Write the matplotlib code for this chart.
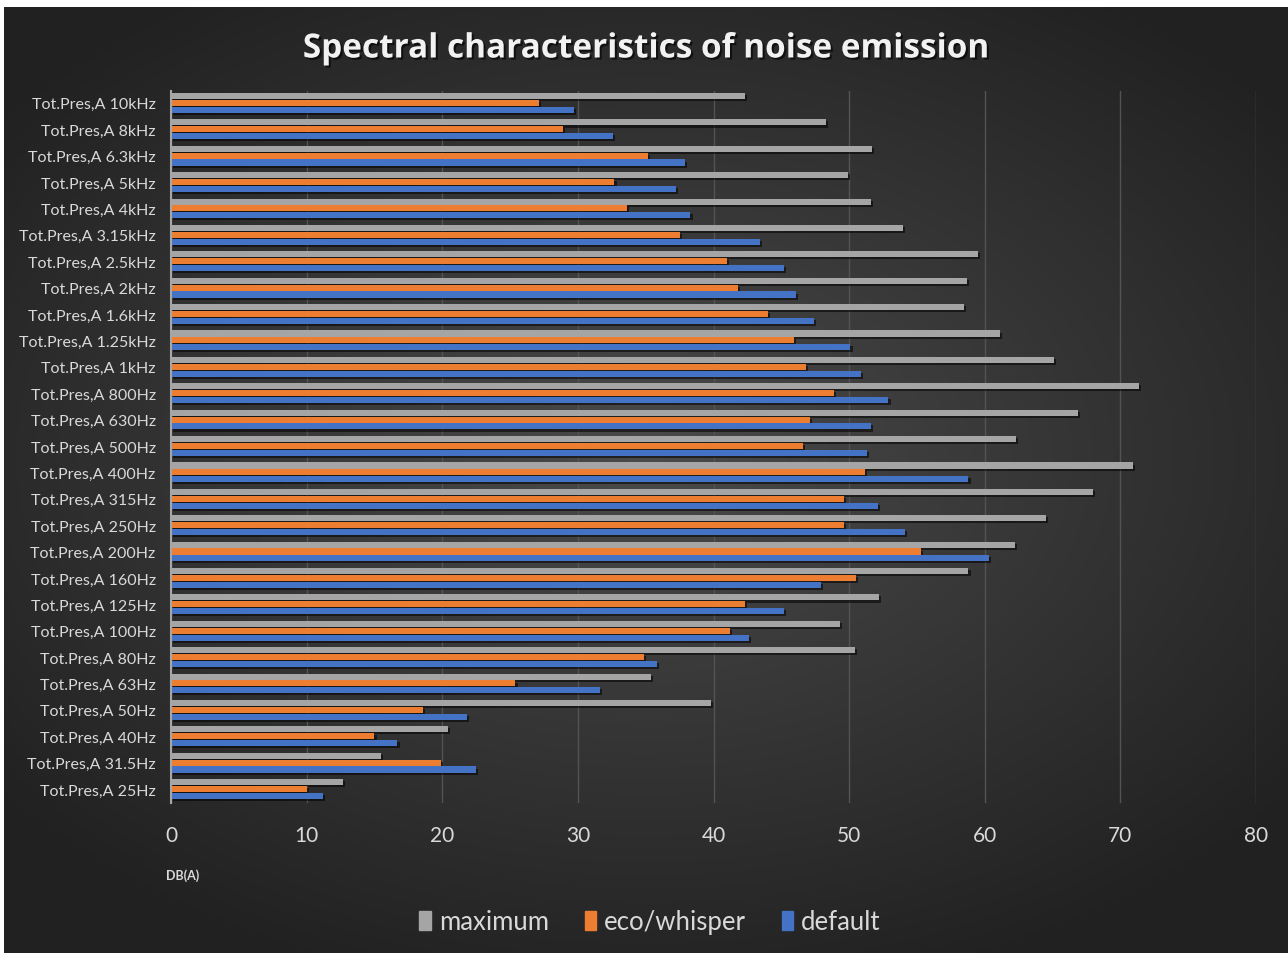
import numpy as np
import matplotlib.pyplot as plt
import matplotlib.patheffects as pe
from matplotlib.patches import Patch

# third-octave bands, lowest first (drawn bottom-up)
bands = ['25Hz', '31.5Hz', '40Hz', '50Hz', '63Hz', '80Hz', '100Hz', '125Hz',
         '160Hz', '200Hz', '250Hz', '315Hz', '400Hz', '500Hz', '630Hz', '800Hz',
         '1kHz', '1.25kHz', '1.6kHz', '2kHz', '2.5kHz', '3.15kHz', '4kHz',
         '5kHz', '6.3kHz', '8kHz', '10kHz']
labels = ['Tot.Pres,A ' + b for b in bands]

maximum = [12.7, 15.5, 20.4, 39.8, 35.4, 50.4, 49.3, 52.2, 58.8, 62.2, 64.5,
           68.0, 70.9, 62.3, 66.9, 71.4, 65.1, 61.1, 58.5, 58.7, 59.5, 54.0,
           51.6, 49.9, 51.7, 48.3, 42.3]
eco = [10.0, 19.9, 15.0, 18.6, 25.4, 34.9, 41.2, 42.3, 50.5, 55.3, 49.6,
       49.6, 51.2, 46.6, 47.1, 48.9, 46.8, 45.9, 44.0, 41.8, 41.0, 37.5,
       33.6, 32.7, 35.2, 28.9, 27.1]
default = [11.2, 22.5, 16.7, 21.8, 31.6, 35.8, 42.6, 45.2, 47.9, 60.3, 54.1,
           52.1, 58.8, 51.3, 51.6, 52.9, 50.9, 50.1, 47.4, 46.1, 45.2, 43.4,
           38.3, 37.2, 37.9, 32.6, 29.7]

c_max = '#a5a5a5'
c_eco = '#ed7d31'
c_def = '#4472c4'
txt = '#d9d9d9'
font = 'Lato'

fig = plt.figure(figsize=(12.88, 9.54), dpi=100)
fig.patch.set_facecolor('white')

# dark radial backdrop
bg = fig.add_axes([4 / 1288, 0, 1284 / 1288, 946 / 954])
bg.set_axis_off()
gx, gy = np.meshgrid(np.linspace(-1, 1, 400), np.linspace(-1, 1, 300))
r = np.sqrt((gx * 0.95) ** 2 + ((gy + 0.05) * 1.05) ** 2)
shade = np.clip(0.29 - 0.13 * r, 0.13, 0.30)
bg.imshow(np.dstack([shade] * 3), aspect='auto', extent=[0, 1, 0, 1],
          interpolation='bilinear')

ax = fig.add_axes([171 / 1288, 150 / 954, 1085 / 1288, 712 / 954])
ax.set_facecolor('none')

y = np.arange(len(bands))
h = 0.23
shadow = [pe.SimplePatchShadow(offset=(1.5, -1.5), shadow_rgbFace='black', alpha=0.55),
          pe.Normal()]
for vals, off, col in [(maximum, 0.26, c_max), (eco, 0.0, c_eco), (default, -0.26, c_def)]:
    bars = ax.barh(y + off, vals, height=h, color=col, zorder=3)
    for b in bars:
        b.set_path_effects(shadow)

ax.set_xlim(0, 80)
ax.set_ylim(-0.53, len(bands) - 0.55)
ax.set_xticks(np.arange(0, 81, 10))
ax.set_yticks(y)
ax.set_yticklabels(labels)
ax.grid(axis='x', color='#535353', linewidth=1.0, zorder=0)
for s in ['top', 'right', 'bottom']:
    ax.spines[s].set_visible(False)
ax.spines['left'].set_color('#a6a6a6')
ax.spines['left'].set_linewidth(1.5)
ax.spines['left'].set_zorder(4)
ax.tick_params(axis='both', length=0, colors=txt)
ax.tick_params(axis='x', labelsize=15, pad=16)
ax.tick_params(axis='y', labelsize=11.5, pad=11)
for t in ax.get_xticklabels() + ax.get_yticklabels():
    t.set_fontfamily(font)

fig.text(183 / 1288, 1 - 876 / 954, 'DB(A)', color=txt, fontsize=9,
         fontweight='bold', fontfamily=font, ha='center', va='center')

fig.text(646 / 1288, 1 - 50 / 954, 'Spectral characteristics of noise emission',
         color='#f2f2f2', fontsize=24, fontweight='bold', fontfamily='Open Sans',
         ha='center', va='center',
         path_effects=[pe.withSimplePatchShadow(offset=(1.5, -1.5),
                                                shadow_rgbFace='black', alpha=0.6)])

handles = [Patch(color=c_max), Patch(color=c_eco), Patch(color=c_def)]
leg = fig.legend(handles, ['maximum', 'eco/whisper', 'default'], loc='center',
                 bbox_to_anchor=(650 / 1288, 1 - 923 / 954), ncol=3, frameon=False,
                 handlelength=0.45, handleheight=0.8, handletextpad=0.3,
                 columnspacing=1.4, prop={'family': font, 'size': 18.5})
for t in leg.get_texts():
    t.set_color(txt)

fig.savefig('out.png', dpi=100, facecolor=fig.get_facecolor())
